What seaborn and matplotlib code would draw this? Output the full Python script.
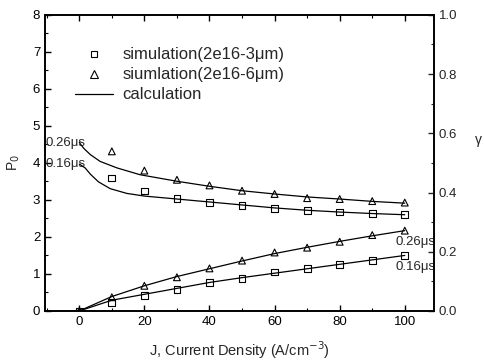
import matplotlib
matplotlib.use("Agg")
import matplotlib.pyplot as plt
import seaborn as sns
from matplotlib.ticker import MultipleLocator
from matplotlib.lines import Line2D

sns.set_theme(style="ticks")
plt.rcParams['font.family'] = ['Liberation Sans', 'DejaVu Sans']

# ---- data ----
J_sim = [0, 10, 20, 30, 40, 50, 60, 70, 80, 90, 100]
J_sim_g = [10, 20, 30, 40, 50, 60, 70, 80, 90, 100]

# P0 (left axis)
p0_sim_3um = [0.0, 0.23, 0.41, 0.59, 0.77, 0.88, 1.05, 1.14, 1.25, 1.37, 1.50]
p0_sim_6um = [0.0, 0.37, 0.68, 0.91, 1.15, 1.36, 1.58, 1.71, 1.87, 2.05, 2.17]
p0_calc_016 = [0.0, 0.29, 0.45, 0.61, 0.77, 0.90, 1.02, 1.14, 1.26, 1.38, 1.50]
p0_calc_026 = [0.0, 0.39, 0.68, 0.93, 1.14, 1.35, 1.55, 1.72, 1.88, 2.03, 2.17]

# gamma (right axis)
g_sim_3um = [0.449, 0.405, 0.379, 0.366, 0.355, 0.346, 0.340, 0.334, 0.330, 0.326]
g_sim_6um = [0.539, 0.474, 0.443, 0.424, 0.406, 0.395, 0.381, 0.378, 0.371, 0.366]
J_calc_026 = [0, 1.3, 3.4, 6.4, 11.6, 18.7, 30, 40, 50, 60, 70, 80, 90, 100]
g_calc_026 = [0.569, 0.550, 0.528, 0.505, 0.483, 0.460, 0.438, 0.421,
              0.406, 0.395, 0.385, 0.378, 0.370, 0.364]
J_calc_016 = [0, 1.8, 3.4, 5.9, 9.5, 14.6, 20, 30, 40, 50, 60, 70, 80, 90, 100]
g_calc_016 = [0.496, 0.483, 0.462, 0.436, 0.413, 0.397, 0.388, 0.378, 0.368,
              0.358, 0.348, 0.340, 0.334, 0.329, 0.325]

labels = ["simulation(2e16-3\u03bcm)", "siumlation(2e16-6\u03bcm)", "calculation"]
x_label = "J, Current Density (A/cm$^{-3}$)"

# ---- figure ----
fig = plt.figure(figsize=(4.85, 3.62), dpi=100)
ax = fig.add_axes([0.093, 0.141, 0.802, 0.818])
ax2 = ax.twinx()

mk = dict(facecolor="none", edgecolor="black", linewidth=0.8, s=24, zorder=3)

# lower: P0
sns.lineplot(x=J_sim, y=p0_calc_016, ax=ax, color="black", linewidth=0.9)
sns.lineplot(x=J_sim, y=p0_calc_026, ax=ax, color="black", linewidth=0.9)
sns.scatterplot(x=J_sim, y=p0_sim_3um, ax=ax, marker="s", **mk)
sns.scatterplot(x=J_sim, y=p0_sim_6um, ax=ax, marker="^", **mk)

# upper: gamma
sns.lineplot(x=J_calc_016, y=g_calc_016, ax=ax2, color="black", linewidth=0.9)
sns.lineplot(x=J_calc_026, y=g_calc_026, ax=ax2, color="black", linewidth=0.9)
sns.scatterplot(x=J_sim_g, y=g_sim_3um, ax=ax2, marker="s", **mk)
sns.scatterplot(x=J_sim_g, y=g_sim_6um, ax=ax2, marker="^", **mk)

ax.set_xlim(-10.5, 109)
ax.set_ylim(0, 8)
ax2.set_ylim(0, 1.0)

ax.xaxis.set_major_locator(MultipleLocator(20))
ax.xaxis.set_minor_locator(MultipleLocator(10))
ax.yaxis.set_major_locator(MultipleLocator(1))
ax.yaxis.set_minor_locator(MultipleLocator(0.5))
ax2.yaxis.set_major_locator(MultipleLocator(0.2))
ax2.yaxis.set_minor_locator(MultipleLocator(0.1))

ax.tick_params(axis="both", which="both", direction="in", labelsize=9.5,
               colors="black")
ax.tick_params(which="major", length=4, width=1)
ax.tick_params(which="minor", length=2.5, width=0.8)
ax.tick_params(axis="x", which="both", top=True, labeltop=False)
ax2.tick_params(axis="y", which="both", direction="in", labelsize=9.5)
ax2.tick_params(which="major", length=4, width=1)
ax2.tick_params(which="minor", length=2.5, width=0.8)
for a in (ax, ax2):
    for s in a.spines.values():
        s.set_linewidth(1.2)
        s.set_color("black")

ax.set_xlabel(x_label, fontsize=10.5, labelpad=8)
ax.set_ylabel("P$_0$", fontsize=10, labelpad=8)
ax2.set_ylabel("\u03b3", fontsize=10, rotation=0)
ax2.yaxis.set_label_coords(1.115, 0.6)

# annotations
ax.text(-10.3, 4.55, "0.26\u03bcs", fontsize=9.5, va="center", ha="left")
ax.text(-10.3, 3.97, "0.16\u03bcs", fontsize=9.5, va="center", ha="left")
ax.text(97, 1.86, "0.26\u03bcs", fontsize=9.5, va="center", ha="left")
ax.text(97, 1.19, "0.16\u03bcs", fontsize=9.5, va="center", ha="left")

# legend
handles = [
    Line2D([], [], marker="s", color="black", markerfacecolor="none", linestyle="none", markersize=4.5, markeredgewidth=0.8),
    Line2D([], [], marker="^", color="black", markerfacecolor="none", linestyle="none", markersize=5.5, markeredgewidth=0.8),
    Line2D([], [], color="black", linewidth=0.9),
]
ax.legend(handles, labels, loc="upper left", bbox_to_anchor=(0.077, 0.89),
          frameon=False, fontsize=12, handlelength=2.3, handletextpad=0.55,
          labelspacing=0.3, borderaxespad=0, borderpad=0)

fig.savefig("out.png", dpi=100)
